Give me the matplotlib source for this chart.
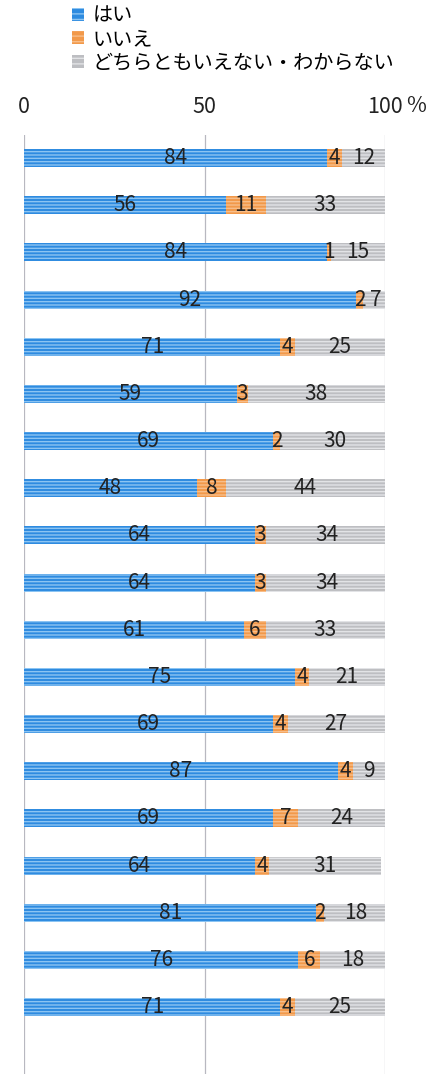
import matplotlib
matplotlib.use("Agg")
import matplotlib.pyplot as plt
from matplotlib.patches import Patch
import numpy as np

plt.rcParams['font.family'] = ['Noto Sans CJK JP', 'DejaVu Sans']

series_names = ["はい", "いいえ", "どちらともいえない・わからない"]
yes = [84, 56, 84, 92, 71, 59, 69, 48, 64, 64, 61, 75, 69, 87, 69, 64, 81, 76, 71]
no = [4, 11, 1, 2, 4, 3, 2, 8, 3, 3, 6, 4, 4, 4, 7, 4, 2, 6, 4]
dk = [12, 33, 15, 7, 25, 38, 30, 44, 34, 34, 33, 21, 27, 9, 24, 31, 18, 18, 25]
x_ticks = [0, 50, 100]
x_ticklabels = ["0", "50", "100"]

colors = ["#2E8BE0", "#F2994A", "#BDBEC2"]
stripe = ["#8CC4F2", "#F7BE8A", "#E2E3E6"]

fig = plt.figure(figsize=(4.40, 10.74), dpi=100)
ax = fig.add_axes([24/440, 0.0, (385-24)/440, 1-135/1074])

n = len(yes)
y = np.arange(n)
h = 0.38
left = np.zeros(n)
for vals, c, s in zip([yes, no, dk], colors, stripe):
    vals = np.array(vals, dtype=float)
    ax.barh(y, vals, left=left, height=h, color=c, edgecolor=s, linewidth=0,
            hatch='-----', zorder=3)
    for yi, l, v in zip(y, left, vals):
        ax.text(l + v/2, yi, f"{int(v)}", ha='center', va='center',
                fontsize=15, color='#222222', zorder=5)
    left = left + vals

ax.set_xlim(0, 100)
ax.set_ylim(n - 1 + 1.42, -0.49)
ax.xaxis.tick_top()
ax.set_xticks(x_ticks)
ax.set_xticklabels(x_ticklabels, fontsize=15.5)
ax.tick_params(axis='x', length=0, pad=12, colors='#222222')
ax.set_yticks([])
for sp in ax.spines.values():
    sp.set_visible(False)
for xv in x_ticks:
    ax.axvline(xv, color='#B8B8C0', linewidth=0.9, zorder=1)

fig.text(406/440, 1-106/1074, "%", fontsize=15.5, ha='left', va='center', color='#222222')

handles = [Patch(facecolor=c, edgecolor=s, hatch='---', linewidth=0) for c, s in zip(colors, stripe)]
fig.legend(handles, series_names, loc='upper left', bbox_to_anchor=(58/440, 1.008),
           frameon=False, fontsize=14.5, handlelength=0.6, handleheight=0.6,
           handletextpad=0.4, labelspacing=0.12, borderpad=0.2)

fig.savefig("out.png", dpi=100)
